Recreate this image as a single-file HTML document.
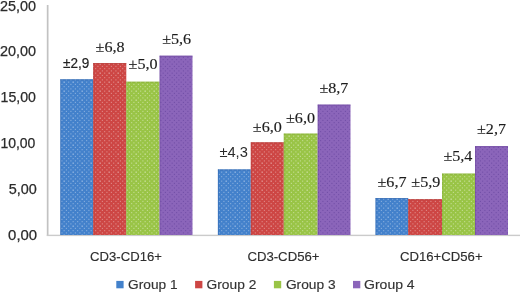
<!DOCTYPE html>
<html><head><meta charset="utf-8"><title>chart</title>
<style>
html,body{margin:0;padding:0;background:#fff;}
body{width:520px;height:293px;overflow:hidden;}
svg{display:block}
.ax{font-family:"Liberation Sans",sans-serif;font-size:14.4px;fill:#2b2b2b;stroke:#2b2b2b;stroke-width:0.25px}
.lg{font-family:"Liberation Sans",sans-serif;font-size:12.4px;fill:#333;stroke:#333;stroke-width:0.15px}
.ct{font-family:"Liberation Sans",sans-serif;font-size:13px;fill:#2e2e2e;stroke:#2e2e2e;stroke-width:0.15px}
.sf{font-family:"Liberation Serif",serif;font-size:14px;fill:#1c1c1c;stroke:#1c1c1c;stroke-width:0.15px}
.dl2{font-family:"Liberation Sans",sans-serif;font-size:13.8px;fill:#2a2a2a}
.dl{font-family:"Liberation Sans",sans-serif;font-size:13.8px;fill:#222;stroke:#222;stroke-width:0.2px}
</style></head><body>
<svg width="520" height="293" viewBox="0 0 520 293">
<defs>
<pattern id="p0" width="9" height="9" patternUnits="userSpaceOnUse"><rect width="9" height="9" fill="#4381cb"/><rect x="0.60" y="0.60" width="1.1" height="1.1" fill="#ffffff" fill-opacity="0.66"/><rect x="2.85" y="2.85" width="1.1" height="1.1" fill="#ffffff" fill-opacity="0.36"/><rect x="0.60" y="5.10" width="1.1" height="1.1" fill="#ffffff" fill-opacity="0.36"/><rect x="2.85" y="7.35" width="1.1" height="1.1" fill="#ffffff" fill-opacity="0.36"/><rect x="5.10" y="0.60" width="1.1" height="1.1" fill="#ffffff" fill-opacity="0.36"/><rect x="7.35" y="2.85" width="1.1" height="1.1" fill="#ffffff" fill-opacity="0.36"/><rect x="5.10" y="5.10" width="1.1" height="1.1" fill="#ffffff" fill-opacity="0.36"/><rect x="7.35" y="7.35" width="1.1" height="1.1" fill="#ffffff" fill-opacity="0.36"/></pattern>
<pattern id="p1" width="9" height="9" patternUnits="userSpaceOnUse"><rect width="9" height="9" fill="#cd4644"/><rect x="0.60" y="0.60" width="1.1" height="1.1" fill="#ffffff" fill-opacity="0.66"/><rect x="2.85" y="2.85" width="1.1" height="1.1" fill="#ffffff" fill-opacity="0.36"/><rect x="0.60" y="5.10" width="1.1" height="1.1" fill="#ffffff" fill-opacity="0.36"/><rect x="2.85" y="7.35" width="1.1" height="1.1" fill="#ffffff" fill-opacity="0.36"/><rect x="5.10" y="0.60" width="1.1" height="1.1" fill="#ffffff" fill-opacity="0.36"/><rect x="7.35" y="2.85" width="1.1" height="1.1" fill="#ffffff" fill-opacity="0.36"/><rect x="5.10" y="5.10" width="1.1" height="1.1" fill="#ffffff" fill-opacity="0.36"/><rect x="7.35" y="7.35" width="1.1" height="1.1" fill="#ffffff" fill-opacity="0.36"/></pattern>
<pattern id="p2" width="9" height="9" patternUnits="userSpaceOnUse"><rect width="9" height="9" fill="#99c446"/><rect x="0.60" y="0.60" width="1.1" height="1.1" fill="#ffffff" fill-opacity="0.72"/><rect x="2.85" y="2.85" width="1.1" height="1.1" fill="#ffffff" fill-opacity="0.42"/><rect x="0.60" y="5.10" width="1.1" height="1.1" fill="#ffffff" fill-opacity="0.42"/><rect x="2.85" y="7.35" width="1.1" height="1.1" fill="#ffffff" fill-opacity="0.42"/><rect x="5.10" y="0.60" width="1.1" height="1.1" fill="#ffffff" fill-opacity="0.42"/><rect x="7.35" y="2.85" width="1.1" height="1.1" fill="#ffffff" fill-opacity="0.42"/><rect x="5.10" y="5.10" width="1.1" height="1.1" fill="#ffffff" fill-opacity="0.42"/><rect x="7.35" y="7.35" width="1.1" height="1.1" fill="#ffffff" fill-opacity="0.42"/></pattern>
<pattern id="p3" width="9" height="9" patternUnits="userSpaceOnUse"><rect width="9" height="9" fill="#8b65ba"/><rect x="0.60" y="0.60" width="1.1" height="1.1" fill="#4d2c8a" fill-opacity="0.42"/><rect x="2.85" y="2.85" width="1.1" height="1.1" fill="#4d2c8a" fill-opacity="0.42"/><rect x="0.60" y="5.10" width="1.1" height="1.1" fill="#4d2c8a" fill-opacity="0.42"/><rect x="2.85" y="7.35" width="1.1" height="1.1" fill="#4d2c8a" fill-opacity="0.42"/><rect x="5.10" y="0.60" width="1.1" height="1.1" fill="#4d2c8a" fill-opacity="0.42"/><rect x="7.35" y="2.85" width="1.1" height="1.1" fill="#4d2c8a" fill-opacity="0.42"/><rect x="5.10" y="5.10" width="1.1" height="1.1" fill="#4d2c8a" fill-opacity="0.42"/><rect x="7.35" y="7.35" width="1.1" height="1.1" fill="#4d2c8a" fill-opacity="0.42"/></pattern>
<filter id="gs" x="0" y="0" width="520" height="293" filterUnits="userSpaceOnUse" color-interpolation-filters="sRGB"><feColorMatrix type="saturate" values="0"/></filter>
</defs>
<rect width="520" height="293" fill="#fff"/>
<rect x="46.8" y="5" width="1.7" height="231" fill="#c2c2c2"/>
<rect x="46.8" y="234.7" width="473.2" height="1.4" fill="#cbcbcb"/>
<rect x="60.3" y="79.3" width="32.9" height="155.7" fill="url(#p0)"/>
<rect x="60.3" y="79.3" width="32.9" height="1" fill="#2f62a8" fill-opacity="0.55"/>
<rect x="60.3" y="79.3" width="0.9" height="155.7" fill="#2f62a8" fill-opacity="0.45"/>
<rect x="93.2" y="63.1" width="33.1" height="171.9" fill="url(#p1)"/>
<rect x="93.2" y="63.1" width="33.1" height="1" fill="#ab3431" fill-opacity="0.55"/>
<rect x="93.2" y="63.1" width="0.9" height="171.9" fill="#ab3431" fill-opacity="0.45"/>
<rect x="126.3" y="81.7" width="33.3" height="153.3" fill="url(#p2)"/>
<rect x="126.3" y="81.7" width="33.3" height="1" fill="#7fa832" fill-opacity="0.55"/>
<rect x="126.3" y="81.7" width="0.9" height="153.3" fill="#7fa832" fill-opacity="0.45"/>
<rect x="159.6" y="55.7" width="32.9" height="179.3" fill="url(#p3)"/>
<rect x="159.6" y="55.7" width="32.9" height="1" fill="#68429a" fill-opacity="0.55"/>
<rect x="159.6" y="55.7" width="0.9" height="179.3" fill="#68429a" fill-opacity="0.45"/>
<rect x="217.9" y="169.4" width="32.9" height="65.6" fill="url(#p0)"/>
<rect x="217.9" y="169.4" width="32.9" height="1" fill="#2f62a8" fill-opacity="0.55"/>
<rect x="217.9" y="169.4" width="0.9" height="65.6" fill="#2f62a8" fill-opacity="0.45"/>
<rect x="250.8" y="142.3" width="33.0" height="92.7" fill="url(#p1)"/>
<rect x="250.8" y="142.3" width="33.0" height="1" fill="#ab3431" fill-opacity="0.55"/>
<rect x="250.8" y="142.3" width="0.9" height="92.7" fill="#ab3431" fill-opacity="0.45"/>
<rect x="283.8" y="133.6" width="33.9" height="101.4" fill="url(#p2)"/>
<rect x="283.8" y="133.6" width="33.9" height="1" fill="#7fa832" fill-opacity="0.55"/>
<rect x="283.8" y="133.6" width="0.9" height="101.4" fill="#7fa832" fill-opacity="0.45"/>
<rect x="317.7" y="104.6" width="32.8" height="130.4" fill="url(#p3)"/>
<rect x="317.7" y="104.6" width="32.8" height="1" fill="#68429a" fill-opacity="0.55"/>
<rect x="317.7" y="104.6" width="0.9" height="130.4" fill="#68429a" fill-opacity="0.45"/>
<rect x="375.5" y="198.1" width="32.7" height="36.9" fill="url(#p0)"/>
<rect x="375.5" y="198.1" width="32.7" height="1" fill="#2f62a8" fill-opacity="0.55"/>
<rect x="375.5" y="198.1" width="0.9" height="36.9" fill="#2f62a8" fill-opacity="0.45"/>
<rect x="408.2" y="199.2" width="33.8" height="35.8" fill="url(#p1)"/>
<rect x="408.2" y="199.2" width="33.8" height="1" fill="#ab3431" fill-opacity="0.55"/>
<rect x="408.2" y="199.2" width="0.9" height="35.8" fill="#ab3431" fill-opacity="0.45"/>
<rect x="442.0" y="173.6" width="33.0" height="61.4" fill="url(#p2)"/>
<rect x="442.0" y="173.6" width="33.0" height="1" fill="#7fa832" fill-opacity="0.55"/>
<rect x="442.0" y="173.6" width="0.9" height="61.4" fill="#7fa832" fill-opacity="0.45"/>
<rect x="475.0" y="146.1" width="33.0" height="88.9" fill="url(#p3)"/>
<rect x="475.0" y="146.1" width="33.0" height="1" fill="#68429a" fill-opacity="0.55"/>
<rect x="475.0" y="146.1" width="0.9" height="88.9" fill="#68429a" fill-opacity="0.45"/>
<rect x="116.3" y="280.9" width="7.3" height="7.4" fill="#4381cb"/>
<rect x="195.1" y="280.9" width="7.3" height="7.4" fill="#cd4644"/>
<rect x="273.9" y="280.9" width="7.3" height="7.4" fill="#99c446"/>
<rect x="353.0" y="280.9" width="7.3" height="7.4" fill="#8b65ba"/>
<g filter="url(#gs)">
<text class="ax" x="0.0" y="10.7" textLength="36.0" lengthAdjust="spacingAndGlyphs">25,00</text>
<text class="ax" x="0.0" y="55.7" textLength="36.0" lengthAdjust="spacingAndGlyphs">20,00</text>
<text class="ax" x="0.6" y="102.2" textLength="35.4" lengthAdjust="spacingAndGlyphs">15,00</text>
<text class="ax" x="0.4" y="148.0" textLength="35.0" lengthAdjust="spacingAndGlyphs">10,00</text>
<text class="ax" x="8.7" y="194.1" textLength="28.1" lengthAdjust="spacingAndGlyphs">5,00</text>
<text class="ax" x="8.1" y="240.3" textLength="29.0" lengthAdjust="spacingAndGlyphs">0,00</text>
<text class="ct" x="90.1" y="261.2" textLength="71.8" lengthAdjust="spacingAndGlyphs">CD3-CD16+</text>
<text class="ct" x="247.4" y="261.4" textLength="72.1" lengthAdjust="spacingAndGlyphs">CD3-CD56+</text>
<text class="ct" x="400.0" y="261.4" textLength="82.6" lengthAdjust="spacingAndGlyphs">CD16+CD56+</text>
<text class="lg" x="128.1" y="288.6" textLength="49.4" lengthAdjust="spacingAndGlyphs">Group 1</text>
<text class="lg" x="206.6" y="288.6" textLength="49.7" lengthAdjust="spacingAndGlyphs">Group 2</text>
<text class="lg" x="285.9" y="288.6" textLength="49.7" lengthAdjust="spacingAndGlyphs">Group 3</text>
<text class="lg" x="364.1" y="288.6" textLength="50.5" lengthAdjust="spacingAndGlyphs">Group 4</text>
<text class="dl" x="63.1" y="67.6" textLength="26.3" lengthAdjust="spacingAndGlyphs">±2,9</text>
<text class="sf" x="95.6" y="51.5" textLength="29.0" lengthAdjust="spacingAndGlyphs">±6,8</text>
<text class="sf" x="128.6" y="69.3" textLength="29.0" lengthAdjust="spacingAndGlyphs">±5,0</text>
<text class="sf" x="162.2" y="44.2" textLength="29.0" lengthAdjust="spacingAndGlyphs">±5,6</text>
<text class="dl2" x="219.4" y="156.8" textLength="28.5" lengthAdjust="spacingAndGlyphs">±4,3</text>
<text class="sf" x="252.8" y="131.6" textLength="29.0" lengthAdjust="spacingAndGlyphs">±6,0</text>
<text class="sf" x="286.0" y="122.7" textLength="29.0" lengthAdjust="spacingAndGlyphs">±6,0</text>
<text class="sf" x="319.4" y="92.6" textLength="29.0" lengthAdjust="spacingAndGlyphs">±8,7</text>
<text class="sf" x="377.5" y="186.5" textLength="29.0" lengthAdjust="spacingAndGlyphs">±6,7</text>
<text class="sf" x="411.3" y="186.5" textLength="29.0" lengthAdjust="spacingAndGlyphs">±5,9</text>
<text class="sf" x="443.4" y="161.3" textLength="29.0" lengthAdjust="spacingAndGlyphs">±5,4</text>
<text class="sf" x="477.0" y="133.9" textLength="29.0" lengthAdjust="spacingAndGlyphs">±2,7</text>
</g>
</svg></body></html>
